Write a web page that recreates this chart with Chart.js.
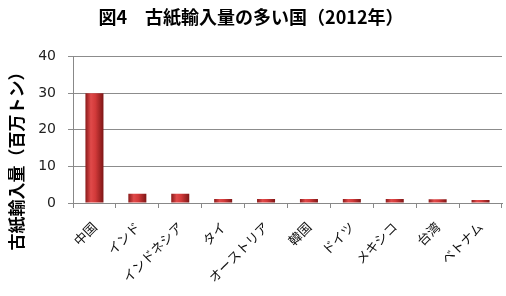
<!DOCTYPE html>
<html>
<head>
<meta charset="utf-8">
<script src="https://cdn.jsdelivr.net/npm/chart.js@4"></script>
<style>
  html, body { margin: 0; padding: 0; background: #fff; }
  #wrap { width: 506px; height: 296px; }
</style>
</head>
<body>
<div id="wrap"><canvas id="c" width="506" height="296"></canvas></div>
<script>
// 古紙輸入量の多い国 (2012年), 単位: 百万トン
const countries = ['中国', 'インド', 'インドネシア', 'タイ', 'オーストリア', '韓国', 'ドイツ', 'メキシコ', '台湾', 'ベトナム'];
const imports = [30.0, 2.5, 2.5, 1.1, 1.1, 1.1, 1.1, 1.1, 1.0, 0.8];
const yTicks = [0, 10, 20, 30, 40];
const yTitle = '古紙輸入量（百万トン）';

const JP = "'Noto Sans CJK JP', 'Noto Sans', sans-serif";
const NUM = "'DejaVu Sans', 'Noto Sans', sans-serif";

// cylinder-ish shading: gradient across each bar's width
function barFill(ctx){
  const chart = ctx.chart;
  const xs = chart.scales.x;
  if(!xs || ctx.dataIndex === undefined) return '#c83232';
  const cx = xs.getPixelForValue(ctx.dataIndex);
  if(!isFinite(cx)) return '#c83232';
  const half = 9;
  const g = chart.ctx.createLinearGradient(cx - half, 0, cx + half, 0);
  g.addColorStop(0, '#8a1a1a');
  g.addColorStop(0.3, '#e04a4a');
  g.addColorStop(0.55, '#d23a3a');
  g.addColorStop(1, '#7e1616');
  return g;
}

// y axis title sits lower than the plot centre in the original, so draw it here
const yTitlePlugin = {
  id: 'yTitle',
  afterDraw(chart){
    const c = chart.ctx;
    c.save();
    c.translate(17, 157);
    c.rotate(-Math.PI / 2);
    c.font = 'bold 17px ' + JP;
    c.fillStyle = '#000';
    c.textAlign = 'center';
    c.textBaseline = 'middle';
    c.fillText(yTitle, 0, 0);
    c.restore();
  }
};

new Chart(document.getElementById('c'), {
  type: 'bar',
  data: {
    labels: countries,
    datasets: [{
      data: imports,
      backgroundColor: barFill,
      borderWidth: 0,
      barPercentage: 0.42,
      categoryPercentage: 1.0
    }]
  },
  options: {
    responsive: false,
    animation: false,
    layout: { padding: { left: 0, right: 4, top: 0, bottom: 0 } },
    plugins: {
      legend: { display: false },
      tooltip: { enabled: false },
      title: {
        display: true,
        text: '図4　古紙輸入量の多い国（2012年）',
        color: '#000',
        font: { family: JP, size: 18, weight: 'bold' },
        padding: { top: 6, bottom: 29 }
      }
    },
    scales: {
      x: {
        offset: true,
        grid: { display: true, offset: true, drawOnChartArea: false, color: '#888', tickLength: 5 },
        border: { color: '#888' },
        ticks: {
          color: '#111',
          font: { family: JP, size: 13 },
          minRotation: 45, maxRotation: 45,
          autoSkip: false,
          padding: 11
        },
        afterFit: s => { s.height = 93; }
      },
      y: {
        min: 0, max: 40,
        afterBuildTicks: s => { s.ticks = yTicks.map(v => ({ value: v })); },
        grid: { color: '#8c8c8c', tickLength: 5 },
        border: { color: '#888' },
        ticks: {
          color: '#222',
          font: { family: NUM, size: 14 },
          padding: 12
        },
        afterFit: s => { s.width = 73; }
      }
    }
  },
  plugins: [yTitlePlugin]
});
</script>
</body>
</html>
